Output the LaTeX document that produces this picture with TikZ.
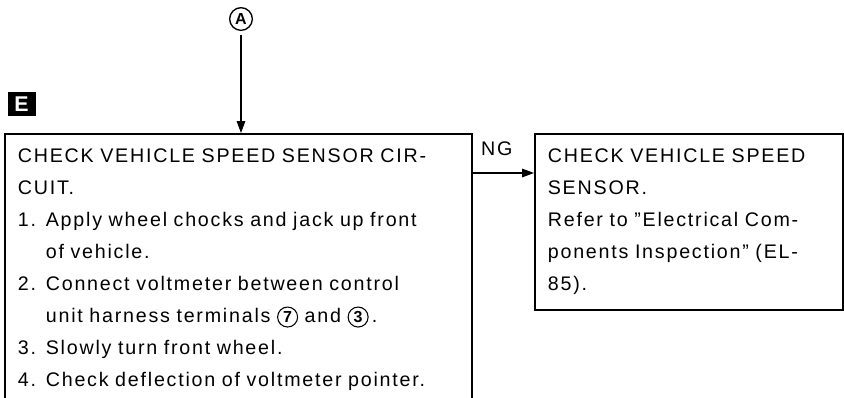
\documentclass[tikz,border=0pt]{standalone}
\usepackage{fontspec}
\setmainfont{Liberation Sans}[LetterSpace=9]
\usepackage{xcolor}
\usepackage{tikz}
\usetikzlibrary{positioning, arrows.meta, calc}

\newcommand{\stepno}[1]{\makebox[21pt][l]{#1}}
\newcommand{\hangin}{\hspace*{21pt}}
\newcommand{\cnum}[1]{\tikz[baseline=(cn.base)]\node[circle, draw, line width=0.8pt, inner sep=0pt, minimum size=15pt, font=\bfseries\fontsize{12}{12}\selectfont](cn){#1};}

\tikzset{
  checkbox/.style={draw, line width=1.3pt, anchor=north west, align=left, inner xsep=9.75pt, inner ysep=11.2pt, font=\fontsize{14.75pt}{24pt}\selectfont},
  flow/.style={line width=0.8pt, -{Triangle[length=9pt, width=6.5pt]}},
}

\begin{document}
\begin{tikzpicture}[x=0.75pt, y=-0.75pt]
    \useasboundingbox (0,0) rectangle (844,397);
    \clip (0,0) rectangle (844,397);

    % entry point and step tag
    \node[circle, draw, line width=1pt, minimum size=17pt, inner sep=0pt, font=\bfseries\fontsize{12}{12}\selectfont] (entryA) at (241,19) {A};
    \node[fill=black, text=white, minimum width=21pt, minimum height=18pt, inner sep=0pt, font=\bfseries\fontsize{16}{16}\selectfont] (tagE) at (21.5,104) {E};

    % left check box (runs past the bottom edge)
    \node[checkbox, text width=330.75pt] (sensorcirc) at (4,133) {%
      CHECK VEHICLE SPEED SENSOR CIR-\\
      CUIT.\\
      \stepno{1.}Apply wheel chocks and jack up front\\
      \hangin of vehicle.\\
      \stepno{2.}Connect voltmeter between control\\
      \hangin unit harness terminals \cnum{7} and \cnum{3}\,.\\
      \stepno{3.}Slowly turn front wheel.\\
      \stepno{4.}Check deflection of voltmeter pointer.};

    % right check box
    \node[checkbox, text width=211.5pt, minimum height=132pt] (sensor) at (534,133) {%
      CHECK VEHICLE SPEED\\
      SENSOR.\\
      Refer to ''Electrical Com-\\
      ponents Inspection'' (EL-\\
      85).};

    \draw[flow] ([yshift=-3pt]entryA.south) -- (entryA.south |- sensorcirc.north);
    \draw[flow] ([yshift=-30pt]sensorcirc.north east) -- node[above=12.5pt, xshift=-5pt, inner sep=0pt, font=\fontsize{14.75pt}{15pt}\selectfont] (ng) {NG} ([yshift=-30pt]sensor.north west);
\end{tikzpicture}
\end{document}
